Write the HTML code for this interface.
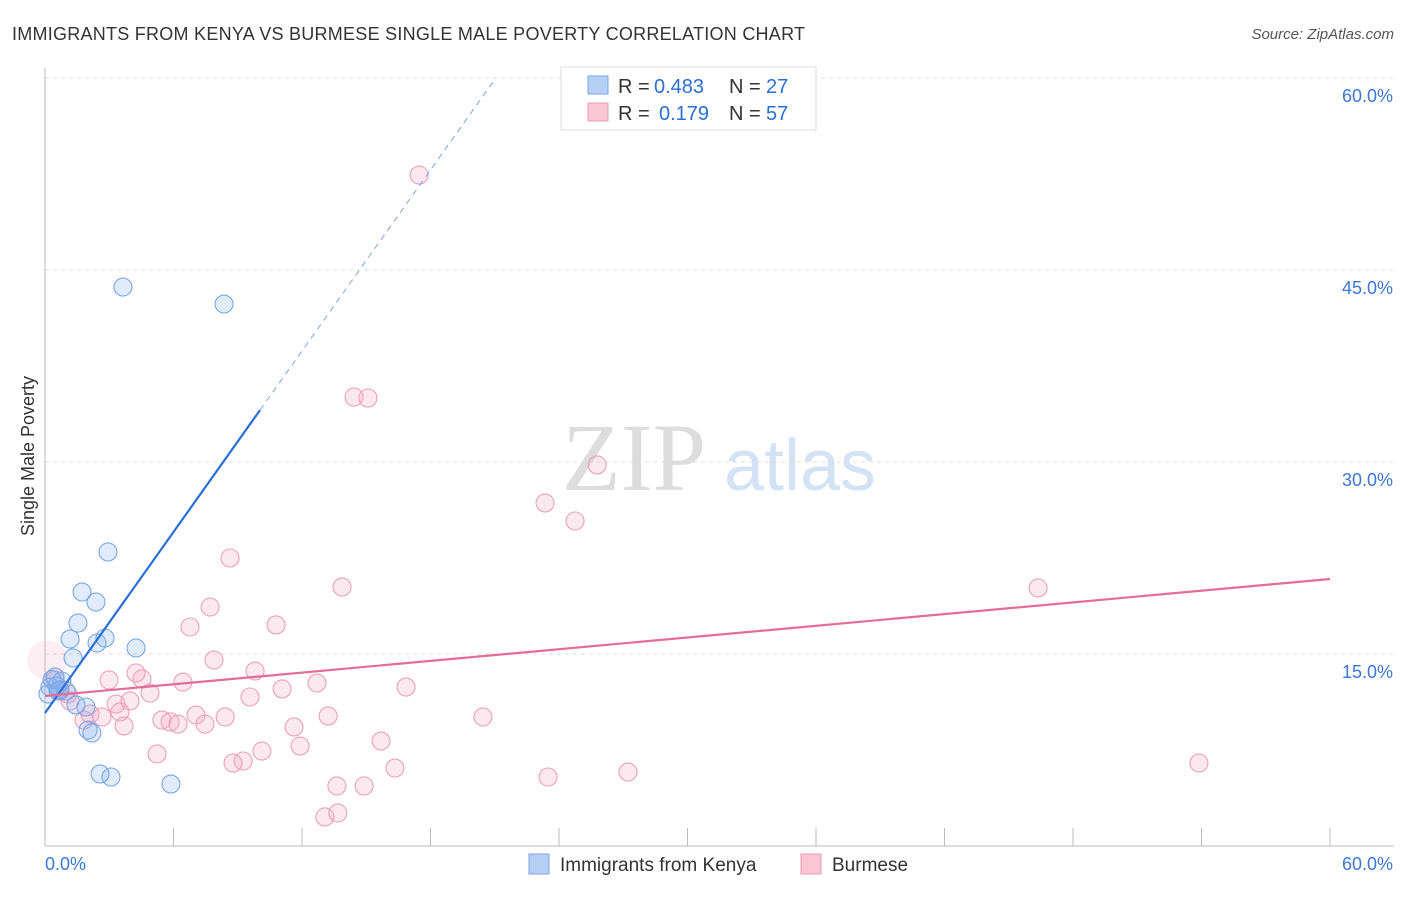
<!DOCTYPE html>
<html><head><meta charset="utf-8"><style>
body{margin:0;background:#fff;font-family:"Liberation Sans",sans-serif}
</style></head><body>
<svg width="1406" height="892" xmlns="http://www.w3.org/2000/svg" font-family="Liberation Sans, sans-serif">
<text x="12" y="40" font-size="18" fill="#333" textLength="793">IMMIGRANTS FROM KENYA VS BURMESE SINGLE MALE POVERTY CORRELATION CHART</text>
<text x="1394" y="39" font-size="15" fill="#555" text-anchor="end" font-style="italic">Source: ZipAtlas.com</text>
<text x="634" y="490" font-size="96" fill="#ddd" text-anchor="middle" font-family="Liberation Serif, serif">ZIP</text>
<text x="800" y="490" font-size="72" fill="#d4e2f5" text-anchor="middle">atlas</text>
<g id="grid"></g>
<g id="axes"></g>
<g id="marks"></g>
<text transform="translate(34,456) rotate(-90)" font-size="18" fill="#333" text-anchor="middle">Single Male Poverty</text>
<g>
<rect x="561" y="67" width="255" height="63" fill="#fff" stroke="#ddd"/>
<rect x="588" y="76" width="20" height="18" fill="#b6d0f5" stroke="#7aa6e6"/>
<rect x="588" y="103" width="20" height="18" fill="#f9c6d6" stroke="#eb9ab5"/>
<text x="618" y="93" font-size="20" fill="#333">R =</text>
<text x="654" y="93" font-size="20" fill="#2a6fd6">0.483</text>
<text x="729" y="93" font-size="20" fill="#333">N =</text>
<text x="766" y="93" font-size="20" fill="#2a6fd6">27</text>
<text x="618" y="120" font-size="20" fill="#333">R =</text>
<text x="659" y="120" font-size="20" fill="#2a6fd6">0.179</text>
<text x="729" y="120" font-size="20" fill="#333">N =</text>
<text x="766" y="120" font-size="20" fill="#2a6fd6">57</text>
</g>
<g>
<rect x="529" y="854" width="20" height="20" fill="#b6d0f5" stroke="#7aa6e6"/>
<text x="560" y="871" font-size="19" fill="#333">Immigrants from Kenya</text>
<rect x="801" y="854" width="20" height="20" fill="#f9c6d6" stroke="#eb9ab5"/>
<text x="832" y="871" font-size="19" fill="#333">Burmese</text>
</g>
</svg>
<script>
const kenyaX=[3.64,8.36,2.94,1.73,2.38,1.54,1.17,2.43,2.80,4.25,1.31,0.47,0.79,0.23,0.61,0.14,0.98,1.45,1.91,2.01,2.19,2.57,3.08,5.88,0.33,0.56,0.70];
const kenyaY=[43.67,42.34,22.97,19.84,19.06,17.42,16.17,15.86,16.25,15.47,14.69,13.20,12.89,12.42,12.11,11.88,12.11,11.02,10.86,9.06,8.83,5.63,5.39,4.84,13.0,12.5,12.2];
const burmX=[17.47,14.43,15.08,25.78,23.35,24.75,8.64,13.87,46.37,7.71,6.77,10.79,7.89,9.81,4.25,4.53,2.99,6.44,12.70,16.86,4.90,11.07,9.57,3.97,3.32,7.05,8.41,13.22,20.45,2.66,5.46,5.84,6.21,7.47,1.82,3.69,11.63,11.91,5.23,10.13,15.69,9.25,8.78,16.34,23.49,27.22,53.88,14.90,13.63,13.07,0.70,1.07,0.47,3.50,2.10,1.17,13.67];
const burmY=[52.42,35.08,35.0,29.77,26.80,25.39,22.5,20.23,20.16,18.67,17.11,17.27,14.53,13.67,13.52,13.05,12.97,12.81,12.73,12.42,11.95,12.27,11.64,11.33,11.09,10.23,10.08,10.16,10.08,10.08,9.84,9.69,9.53,9.53,9.84,9.38,9.30,7.81,7.19,7.42,8.20,6.64,6.48,6.09,5.39,5.78,6.48,4.69,4.69,2.27,12.11,11.88,12.97,10.47,10.31,11.33,2.58];
const yTicks=[15,30,45,60];
const yTickLabels=["15.0%","30.0%","45.0%","60.0%"];
const kenyaTrend=[10.39,2.357];
const burmTrend=[11.72,0.1523];
const NS="http://www.w3.org/2000/svg";
const sx=v=>45+v/60*1285, sy=v=>846-v/15*192;
function mk(t,a,p){const e=document.createElementNS(NS,t);for(const k in a)e.setAttribute(k,a[k]);document.getElementById(p).appendChild(e);return e;}
yTicks.forEach((t,i)=>{
 const l=mk('line',{x1:45,x2:1394,y1:sy(t),y2:sy(t),stroke:'#ddd','stroke-dasharray':'4,4'},'grid');
 
 
 const tx=mk('text',{x:1393,y:sy(t)+24,'font-size':18,fill:'#3a78d8','text-anchor':'end'},'axes');
 tx.textContent=yTickLabels[i];
 
 
});
let a=mk('line',{x1:45,x2:45,y1:68,y2:846,stroke:'#bbb'},'axes');


a=mk('line',{x1:45,x2:1394,y1:846,y2:846,stroke:'#bbb'},'axes');


for(let i=0;i<=10;i++){const t=mk('line',{x1:sx(i*6),x2:sx(i*6),y1:828,y2:846,stroke:'#bbb'},'axes');
 
 }
let xl=mk('text',{x:45,y:870,'font-size':18,fill:'#3a78d8'},'axes');xl.textContent='0.0%';


xl=mk('text',{x:1393,y:870,'font-size':18,fill:'#3a78d8','text-anchor':'end'},'axes');xl.textContent='60.0%';


let big=mk('circle',{cx:sx(0.1),cy:sy(14.5),r:20,fill:'rgba(245,170,195,0.2)',stroke:'none'},'marks');


burmX.forEach((x,i)=>{const c=mk('circle',{cx:sx(x),cy:sy(burmY[i]),r:9,fill:'rgba(245,165,190,0.25)',stroke:'#eca0ba','stroke-width':1.1},'marks');
 
 });
kenyaX.forEach((x,i)=>{const c=mk('circle',{cx:sx(x),cy:sy(kenyaY[i]),r:9,fill:'rgba(130,175,240,0.25)',stroke:'#7aa6e6','stroke-width':1.1},'marks');
 
 });
const kx1=10.04,kx2=(60-kenyaTrend[0])/kenyaTrend[1];
let tl=mk('line',{x1:sx(0),y1:sy(kenyaTrend[0]),x2:sx(kx1),y2:sy(kenyaTrend[0]+kenyaTrend[1]*kx1),stroke:'#2a6fd6','stroke-width':2.2},'marks');


tl=mk('line',{x1:sx(kx1),y1:sy(kenyaTrend[0]+kenyaTrend[1]*kx1),x2:sx(kx2),y2:sy(60),stroke:'#7aa6e6','stroke-width':1,'stroke-dasharray':'6,5'},'marks');


tl=mk('line',{x1:sx(0),y1:sy(burmTrend[0]),x2:sx(60),y2:sy(burmTrend[0]+burmTrend[1]*60),stroke:'#e36d98','stroke-width':2.2},'marks');


</script>
</body></html>
